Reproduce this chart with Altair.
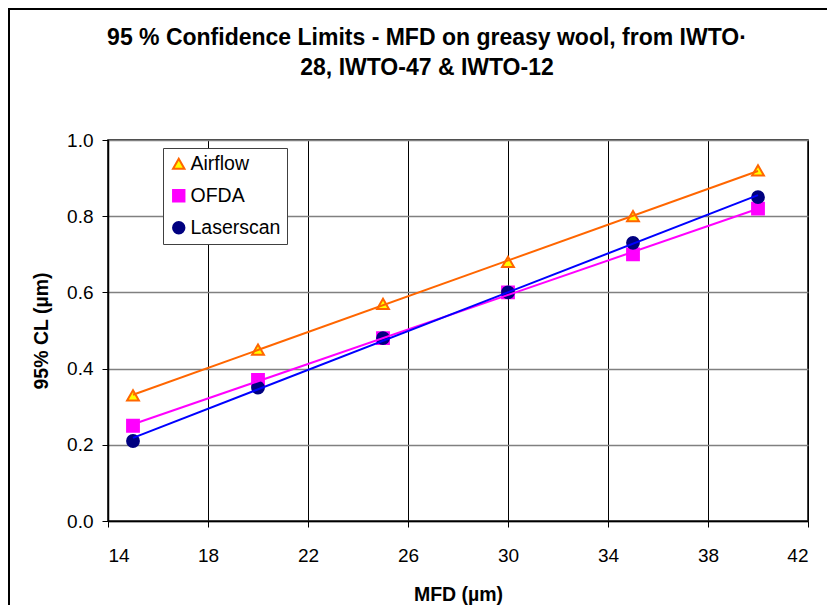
import altair as alt
import pandas as pd

mfd = [15, 20, 25, 30, 35, 40]
airflow = [0.33, 0.45, 0.57, 0.68, 0.80, 0.92]
ofda = [0.25, 0.37, 0.48, 0.60, 0.70, 0.82]
laserscan = [0.21, 0.35, 0.48, 0.60, 0.73, 0.85]

series_names = ["Airflow", "OFDA", "Laserscan"]
marker_fill = ["#FFFF00", "#FF00FF", "#000080"]
marker_stroke = ["#FF6600", "#FF00FF", "#000080"]
marker_shape = ["triangle-up", "square", "circle"]
line_colors = ["#FF6600", "#FF00FF", "#0000FF"]

x_ticks = [14, 18, 22, 26, 30, 34, 38, 42]
y_ticks = [0.0, 0.2, 0.4, 0.6, 0.8, 1.0]

title_lines = ["95 % Confidence Limits - MFD on greasy wool, from IWTO·",
               "28, IWTO-47 & IWTO-12"]

rows = []
for name, vals, lc in zip(series_names, [airflow, ofda, laserscan], line_colors):
    for xv, yv in zip(mfd, vals):
        rows.append({"series": name, "mfd": xv, "cl": yv, "lc": lc})
df = pd.DataFrame(rows)

FONT = "Liberation Sans"

x_enc = alt.X("mfd:Q", scale=alt.Scale(domain=[14, 42], nice=False, zero=False),
              axis=alt.Axis(values=x_ticks, title="MFD (µm)", format="d",
                            gridColor="black", gridWidth=1,
                            labelPadding=19, titlePadding=20))
y_enc = alt.Y("cl:Q", scale=alt.Scale(domain=[0, 1], nice=False),
              axis=alt.Axis(values=y_ticks, title="95% CL (µm)", format=".1f",
                            gridColor="#808080", gridWidth=1.5,
                            labelPadding=9, titlePadding=15))

base = alt.Chart(df)

points = base.mark_point(filled=True, strokeWidth=2, size=140, opacity=1).encode(
    x=x_enc,
    y=y_enc,
    fill=alt.Fill("series:N", sort=series_names, title=None,
                  scale=alt.Scale(domain=series_names, range=marker_fill)),
    stroke=alt.Stroke("series:N", sort=series_names, title=None,
                      scale=alt.Scale(domain=series_names, range=marker_stroke)),
    shape=alt.Shape("series:N", sort=series_names, title=None,
                    scale=alt.Scale(domain=series_names, range=marker_shape)),
)

lines = base.transform_regression(
    "mfd", "cl", groupby=["series", "lc"], extent=[15, 40]
).mark_line(strokeWidth=2).encode(
    x="mfd:Q",
    y="cl:Q",
    color=alt.Color("lc:N", scale=None),
    detail="series:N",
)

frame = alt.Chart(pd.DataFrame({"f": [0]})).mark_rect(
    fill="transparent", stroke="black", strokeWidth=2
).encode(
    x=alt.value(-99), x2=alt.value(760), y=alt.value(-131), y2=alt.value(600)
)

title1 = alt.Chart(pd.DataFrame({"t": [title_lines[0]]})).mark_text(
    font=FONT, fontSize=23, fontWeight="bold", color="black",
    align="center", baseline="middle"
).encode(text="t:N", x=alt.value(319), y=alt.value(-102))

title2 = alt.Chart(pd.DataFrame({"t": [title_lines[1]]})).mark_text(
    font=FONT, fontSize=23, fontWeight="bold", color="black",
    align="center", baseline="middle"
).encode(text="t:N", x=alt.value(319), y=alt.value(-72))

chart = alt.layer(frame, title1, title2, points, lines).properties(
    width=700,
    height=381,
    padding={"left": 100, "top": 132, "right": 19, "bottom": 84},
    autosize=alt.AutoSizeParams(type="none"),
).configure_view(
    stroke="black", strokeWidth=1.5
).configure_axis(
    labelFont=FONT, titleFont=FONT, labelFontSize=19, titleFontSize=19.5,
    titleFontWeight="bold", labelColor="black", titleColor="black",
    tickColor="black", tickSize=6, domainColor="black", domainWidth=1.5,
).configure_legend(
    orient="none", legendX=55, legendY=8, fillColor="white", strokeColor="#404040",
    strokeWidth=1, padding=6, labelFont=FONT, labelFontSize=19.5, labelColor="black",
    symbolSize=130, symbolStrokeWidth=2, labelOffset=2, rowPadding=11,
)

chart.save("out.html", embed_options={"renderer": "svg", "actions": False})
